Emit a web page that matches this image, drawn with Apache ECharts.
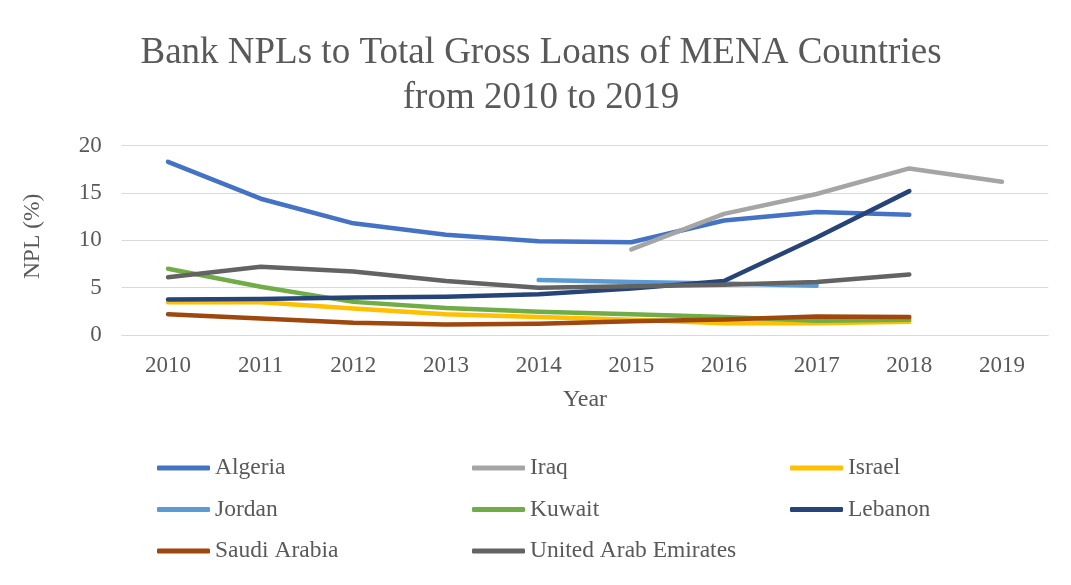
<!DOCTYPE html>
<html>
<head>
<meta charset="utf-8">
<title>Bank NPLs to Total Gross Loans of MENA Countries</title>
<script src="https://cdn.jsdelivr.net/npm/echarts@6/dist/echarts.min.js"></script>
<style>
  html, body { margin: 0; padding: 0; background: #ffffff; }
  #chart { width: 1071px; height: 585px; }
</style>
</head>
<body>
<div id="chart"></div>
<script>
// Years on the category axis
const years = ['2010', '2011', '2012', '2013', '2014', '2015', '2016', '2017', '2018', '2019'];

// NPL ratio (% of gross loans) per country; null where no figure is reported
const algeria = [18.3, 14.4, 11.8, 10.6, 9.9, 9.8, 12.1, 13.0, 12.7, null];
const iraq = [null, null, null, null, null, 9.05, 12.8, 14.9, 17.6, 16.2];
const israel = [3.45, 3.45, 2.8, 2.2, 1.9, 1.6, 1.25, 1.25, 1.4, null];
const jordan = [null, null, null, null, 5.8, 5.6, 5.45, 5.2, null, null];
const kuwait = [7.0, 5.1, 3.5, 2.85, 2.45, 2.2, 1.9, 1.5, 1.6, null];
const lebanon = [3.75, 3.8, 3.95, 4.05, 4.3, 4.9, 5.7, 10.3, 15.2, null];
const saudiArabia = [2.2, 1.75, 1.3, 1.1, 1.2, 1.45, 1.65, 1.95, 1.9, null];
const uae = [6.1, 7.2, 6.7, 5.7, 5.0, 5.15, 5.3, 5.6, 6.4, null];

// Value axis ticks
const yTicks = [0, 5, 10, 15, 20];

const countries = [
  { name: 'Algeria', data: algeria, color: '#4472C4' },
  { name: 'Iraq', data: iraq, color: '#A5A5A5' },
  { name: 'Israel', data: israel, color: '#FFC000' },
  { name: 'Jordan', data: jordan, color: '#5B9BD5' },
  { name: 'Kuwait', data: kuwait, color: '#70AD47' },
  { name: 'Lebanon', data: lebanon, color: '#264478' },
  { name: 'Saudi Arabia', data: saudiArabia, color: '#9E480E' },
  { name: 'United Arab Emirates', data: uae, color: '#636363' }
];

const FONT = '"Liberation Serif", "Times New Roman", serif';
const TEXT = '#595959';
const GRID = '#D9D9D9';

function legendColumn(names, left) {
  return {
    orient: 'vertical',
    left: left,
    top: 451,
    itemWidth: 53,
    itemHeight: 5,
    itemGap: 17.5,
    icon: 'roundRect',
    data: names,
    textStyle: { fontFamily: FONT, fontSize: 23.5, lineHeight: 24, color: TEXT, padding: [0, 0, 0, 0] },
    selectedMode: false
  };
}

const chart = echarts.init(document.getElementById('chart'), null, { renderer: 'canvas' });

chart.setOption({
  animation: false,
  backgroundColor: '#ffffff',
  title: {
    text: 'Bank NPLs to Total Gross Loans of MENA Countries\nfrom 2010 to 2019',
    left: 536,
    top: 26,
    textAlign: 'center',
    textStyle: { fontFamily: FONT, fontSize: 37, fontWeight: 'normal', color: TEXT, lineHeight: 45 }
  },
  legend: [
    legendColumn(['Algeria', 'Jordan', 'Saudi Arabia'], 152),
    legendColumn(['Iraq', 'Kuwait', 'United Arab Emirates'], 467),
    legendColumn(['Israel', 'Lebanon'], 785)
  ],
  grid: { left: 121.7, right: 22.7, top: 145.7, bottom: 250, containLabel: false },
  xAxis: {
    type: 'category',
    data: years,
    boundaryGap: true,
    name: 'Year',
    nameLocation: 'middle',
    nameGap: 53,
    nameTextStyle: { fontFamily: FONT, fontSize: 24, color: TEXT },
    axisLine: { lineStyle: { color: GRID, width: 1 } },
    axisTick: { show: false },
    axisLabel: { fontFamily: FONT, fontSize: 23, color: TEXT, margin: 19 }
  },
  yAxis: {
    type: 'value',
    min: yTicks[0],
    max: yTicks[yTicks.length - 1],
    interval: yTicks[1] - yTicks[0],
    name: 'NPL (%)',
    nameLocation: 'middle',
    nameRotate: 90,
    nameGap: 77,
    nameTextStyle: { fontFamily: FONT, fontSize: 23.5, color: TEXT, padding: [0, 0, 0, 8] },
    axisLine: { show: false },
    axisTick: { show: false },
    axisLabel: { fontFamily: FONT, fontSize: 23, color: TEXT, margin: 20 },
    splitLine: { lineStyle: { color: GRID, width: 1 } }
  },
  series: countries.map(c => ({
    name: c.name,
    type: 'line',
    data: c.data,
    symbol: 'none',
    connectNulls: false,
    color: c.color,
    lineStyle: { color: c.color, width: 4.5, cap: 'round', join: 'round' },
    itemStyle: { color: c.color }
  }))
});
</script>
</body>
</html>
